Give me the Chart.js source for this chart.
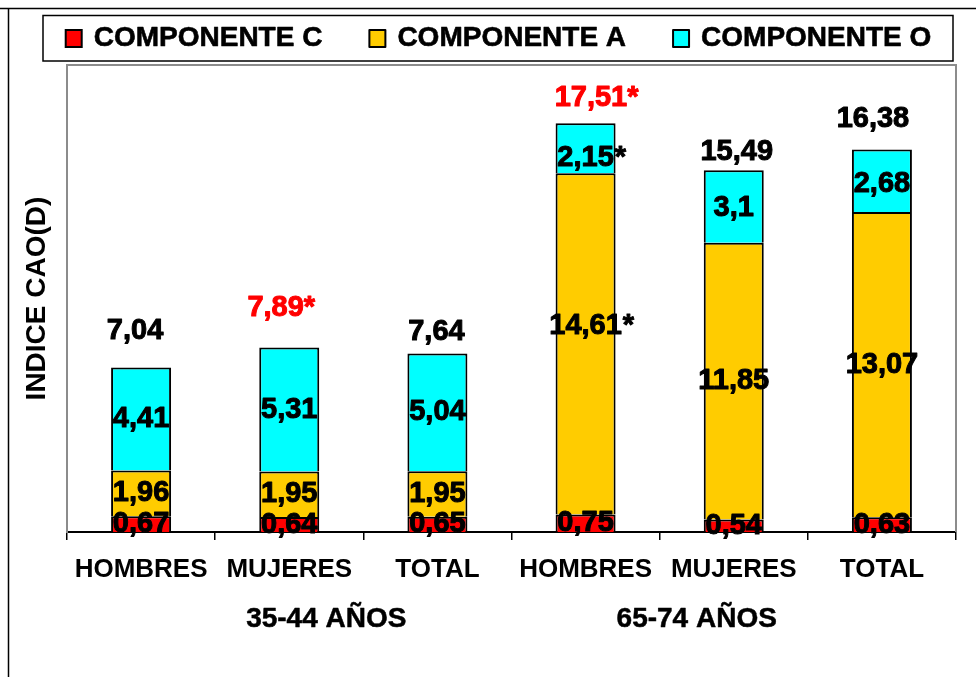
<!DOCTYPE html>
<html><head><meta charset="utf-8">
<script src="https://cdn.jsdelivr.net/npm/chart.js@4.4.0/dist/chart.umd.min.js"></script>
<style>html,body{margin:0;padding:0;background:#fff;} #wrap{width:976px;height:677px;position:relative;}</style>
</head><body><div id="wrap"><canvas id="c" width="976" height="677"></canvas></div>
<script>
// ---- data ----
const categories = ['HOMBRES','MUJERES','TOTAL','HOMBRES','MUJERES','TOTAL'];
const groups = ['35-44 AÑOS','65-74 AÑOS'];
const seriesNames = ['COMPONENTE C','COMPONENTE A','COMPONENTE O'];
const componenteC = [0.67,0.64,0.65,0.75,0.54,0.63];
const componenteA = [1.96,1.95,1.95,14.61,11.85,13.07];
const componenteO = [4.41,5.31,5.04,2.15,3.1,2.68];
const totals = [7.04,7.89,7.64,17.51,15.49,16.38];
const totalSignificant = [false,true,false,true,false,false];
const starC = [false,false,false,false,false,false];
const starA = [false,false,false,true,false,false];
const starO = [false,false,false,true,false,false];
const yAxisTitle = 'INDICE CAO(D)';
const yMin = 0, yMax = 20;

// ---- styling ----
const FAM = '"Liberation Sans", Arial, Helvetica, sans-serif';
const colors = ['#FF0000','#FFCC00','#00FFFF'];
const GREY = '#8c8c8c';
const fmt = v => String(v).replace('.', ',');

function boldText(ctx, txt, x, y, color, sw) {
  ctx.fillStyle = color;
  ctx.fillText(txt, x, y);
  if (sw) { ctx.strokeStyle = color; ctx.lineWidth = sw; ctx.lineJoin = 'round'; ctx.strokeText(txt, x, y); }
}

const framePlugin = {
  id: 'frame',
  beforeDraw(chart) {
    const ctx = chart.ctx, ca = chart.chartArea;
    ctx.save();
    ctx.fillStyle = '#fff';
    ctx.fillRect(0, 0, chart.width, chart.height);
    // outer frame
    ctx.strokeStyle = '#000'; ctx.lineWidth = 1.5;
    ctx.beginPath();
    ctx.moveTo(0, 8.5); ctx.lineTo(chart.width, 8.5);
    ctx.moveTo(8.5, 8.5); ctx.lineTo(8.5, chart.height);
    ctx.stroke();
    // legend frame
    const lf = {l: ca.left - 24, r: ca.right - 3, t: 15.5, b: 61};
    ctx.lineWidth = 1.5; ctx.strokeStyle = '#000';
    ctx.strokeRect(lf.l, lf.t, lf.r - lf.l, lf.b - lf.t);
    // legend items
    ctx.font = 'bold 28px ' + FAM;
    const gapText = 29, gapItem = 46;
    const widths = seriesNames.map(s => ctx.measureText(s).width);
    const total = widths.reduce((a, w) => a + gapText + w, 0) + gapItem * (seriesNames.length - 1);
    let x = (lf.l + lf.r) / 2 - total / 2;
    const cy = 38.5;
    seriesNames.forEach((s, i) => {
      ctx.fillStyle = colors[i];
      ctx.fillRect(x + 1, cy - 8.5, 16, 17);
      ctx.lineWidth = 2; ctx.strokeStyle = '#000';
      ctx.strokeRect(x + 1, cy - 8.5, 16, 17);
      ctx.textAlign = 'left'; ctx.textBaseline = 'middle';
      boldText(ctx, s, x + gapText, cy, '#000', 0.6);
      x += gapText + widths[i] + gapItem;
    });
    ctx.restore();
  },
  beforeDatasetsDraw(chart) {
    const ctx = chart.ctx, ca = chart.chartArea;
    ctx.save();
    ctx.strokeStyle = GREY; ctx.lineWidth = 2;
    ctx.beginPath();
    ctx.moveTo(ca.left, ca.top); ctx.lineTo(ca.right, ca.top); ctx.lineTo(ca.right, ca.bottom);
    ctx.stroke();
    ctx.restore();
  }
};

const labelPlugin = {
  id: 'labels',
  afterDatasetsDraw(chart, args, opts) {
    const ctx = chart.ctx;
    ctx.save();
    ctx.font = 'bold 29px ' + FAM;
    ctx.textBaseline = 'middle';
    const stars = [starC, starA, starO];
    chart.data.datasets.forEach((ds, d) => {
      const meta = chart.getDatasetMeta(d);
      meta.data.forEach((el, i) => {
        const txt = fmt(ds.data[i]);
        const w = ctx.measureText(txt).width;
        const nudge = (opts.segNudge[d] || [])[i] || 0;
        const yc = (el.y + el.base) / 2 + nudge;
        ctx.textAlign = 'center';
        boldText(ctx, txt, el.x, yc, '#000', 1);
        if (stars[d][i]) { ctx.textAlign = 'left'; boldText(ctx, '*', el.x + w / 2 + 1, yc, '#000', 1); }
      });
    });
    // totals
    const topMeta = chart.getDatasetMeta(chart.data.datasets.length - 1);
    topMeta.data.forEach((el, i) => {
      const txt = fmt(totals[i]) + (totalSignificant[i] ? '*' : '');
      const n = opts.totalNudge[i];
      ctx.textAlign = 'center';
      boldText(ctx, txt, el.x + n[0], el.y + n[1], totalSignificant[i] ? '#FF0000' : '#000', 1);
    });
    ctx.restore();
  },
  afterDraw(chart) {
    const ctx = chart.ctx, xs = chart.scales.x, ca = chart.chartArea;
    ctx.save();
    ctx.font = 'bold 28px ' + FAM;
    ctx.textAlign = 'center'; ctx.textBaseline = 'middle';
    const per = categories.length / groups.length;
    groups.forEach((g, k) => {
      const v = k * per + (k === 0 ? 1.25 : 0.75);
      boldText(ctx, g, xs.getPixelForValue(v), ca.bottom + 87, '#000', 0.5);
    });
    ctx.restore();
  }
};

new Chart(document.getElementById('c'), {
  type: 'bar',
  data: {
    labels: categories,
    datasets: [
      {label: seriesNames[0], data: componenteC, backgroundColor: colors[0]},
      {label: seriesNames[1], data: componenteA, backgroundColor: colors[1]},
      {label: seriesNames[2], data: componenteO, backgroundColor: colors[2]}
    ]
  },
  options: {
    responsive: false, animation: false, devicePixelRatio: 1,
    layout: {padding: {top: 65, right: 20, bottom: 0, left: 0}},
    datasets: {bar: {borderColor: '#000', borderWidth: 2, borderSkipped: 'start', categoryPercentage: 1, barPercentage: 0.405}},
    plugins: {
      legend: {display: false}, tooltip: {enabled: false},
      labels: {
        segNudge: [[0,0,0,0,0,0],[0,0,0,-18,0,0],[0,0,0,10,1,3]],
        totalNudge: [[-6,-37],[-8,-40],[-1,-22],[11,-25],[3,-18],[-9,-31]]
      }
    },
    scales: {
      x: {
        stacked: true,
        grid: {display: true, drawOnChartArea: false, drawTicks: true, tickLength: 8, color: '#000', lineWidth: 1.5, offset: true},
        border: {display: true, color: '#000', width: 2},
        ticks: {color: '#000', font: {family: FAM, size: 26, weight: 'bold'}, padding: 14, maxRotation: 0, autoSkip: false},
        afterFit(s) { s.height = 145; }
      },
      y: {
        stacked: true, min: yMin, max: yMax,
        grid: {display: false},
        border: {display: true, color: GREY, width: 2},
        ticks: {display: false},
        title: {display: true, text: yAxisTitle, color: '#000', font: {family: FAM, size: 28, weight: 'bold'}, padding: {top: 20, bottom: 0}},
        afterFit(s) { s.width = 67; }
      }
    }
  },
  plugins: [framePlugin, labelPlugin]
});
</script>
</body></html>
